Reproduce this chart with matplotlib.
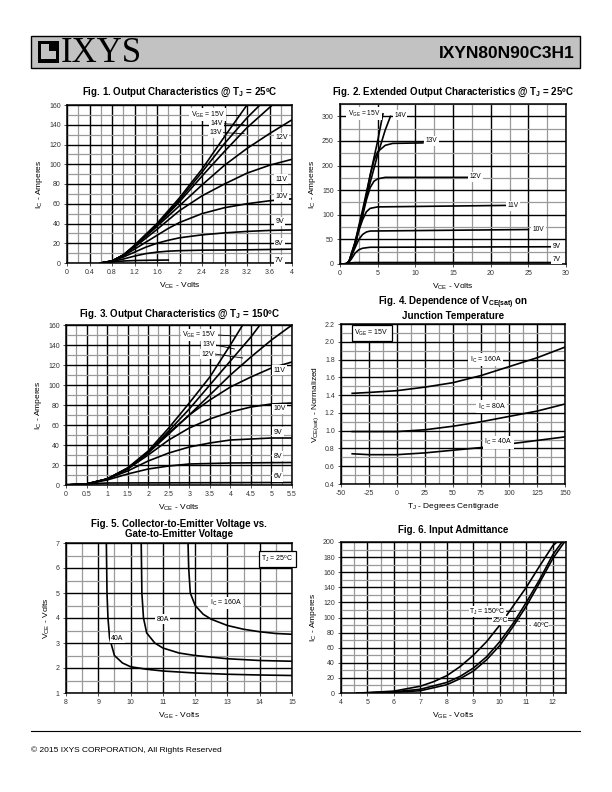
import matplotlib
matplotlib.use("Agg")
import matplotlib.pyplot as plt
from matplotlib.patches import Rectangle
from matplotlib.ticker import MultipleLocator, FormatStrFormatter

plt.rcParams['font.family'] = ['Liberation Sans', 'DejaVu Sans']
plt.rcParams['mathtext.fontset'] = 'custom'
plt.rcParams['mathtext.rm'] = 'Liberation Sans'
plt.rcParams['mathtext.it'] = 'Liberation Sans'
plt.rcParams['mathtext.bf'] = 'Liberation Sans:bold'
plt.rcParams['axes.unicode_minus'] = False

# ---- Fig. 1 data: output characteristics @ 25C (VCE, IC) ----
f1_vge = ['15V', '14V', '13V', '12V', '11V', '10V', '9V', '8V', '7V']
f1_vce = [
    [0.6, 0.8, 1.0, 1.2, 1.6, 2.0, 2.4, 2.8, 3.2],
    [0.6, 0.8, 1.0, 1.2, 1.6, 2.0, 2.4, 2.8, 3.2, 3.43],
    [0.6, 0.8, 1.0, 1.2, 1.6, 2.0, 2.4, 2.8, 3.2, 3.65],
    [0.6, 0.8, 1.0, 1.2, 1.6, 2.0, 2.4, 2.8, 3.2, 3.6, 4.0],
    [0.6, 0.8, 1.0, 1.2, 1.4, 1.6, 2.0, 2.4, 2.8, 3.2, 3.6, 4.0],
    [0.6, 0.8, 1.0, 1.2, 1.4, 1.6, 1.8, 2.0, 2.4, 2.8, 3.2, 3.6, 4.0],
    [0.6, 0.8, 1.0, 1.2, 1.4, 1.6, 1.8, 2.0, 2.4, 2.8, 3.2, 3.6, 4.0],
    [0.6, 0.8, 1.0, 1.2, 1.4, 1.6, 1.8, 2.0, 2.4, 3.0, 4.0],
    [0.6, 0.8, 1.0, 1.2, 1.5, 1.8],
]
f1_ic = [
    [0, 2, 8, 18, 40, 66, 95, 128, 160],
    [0, 2, 8, 17.5, 39, 64, 92, 121, 147, 160],
    [0, 2, 8, 17, 38, 62, 88, 113, 137, 160],
    [0, 2, 8, 17, 37, 58, 79, 99, 116, 131, 145],
    [0, 2, 8, 16, 25, 34, 53, 68, 80, 91, 99, 105],
    [0, 2, 7, 14, 21, 28, 35, 41, 50, 56, 60, 63, 65],
    [0, 2, 6, 11, 16, 20, 23, 25.5, 28.5, 30.5, 32, 33, 33.5],
    [0, 1.5, 4, 7, 9.5, 11, 12, 12.5, 13, 13.2, 14],
    [0, 1, 2, 2.5, 2.8, 3],
]

# ---- Fig. 2 data: extended output characteristics @ 25C ----
f2_vge = ['15V', '14V', '13V', '12V', '11V', '10V', '9V', '7V']
f2_vce = [
    [0, 0.8, 1.2, 2, 3, 4, 5, 5.7],
    [0, 0.8, 1.2, 2, 3, 4, 5, 6, 6.7],
    [0, 0.8, 1.2, 2, 3, 3.5, 4, 4.5, 5, 6, 7, 11],
    [0, 0.8, 1.2, 2, 3, 3.5, 4, 4.5, 5, 6, 17],
    [0, 0.8, 1.2, 2, 2.5, 3, 3.5, 4, 5, 22],
    [0, 0.8, 1.2, 2, 2.5, 3, 3.5, 4, 25],
    [0, 0.8, 1.2, 1.5, 2, 2.5, 3, 4, 28],
    [0, 0.8, 1.2, 2, 28],
]
f2_ic = [
    [0, 0.5, 5, 45, 110, 180, 250, 305],
    [0, 0.5, 5, 43, 104, 165, 222, 272, 300],
    [0, 0.5, 5, 42, 102, 140, 180, 210, 228, 241, 245, 246],
    [0, 0.5, 5, 40, 98, 130, 155, 168, 173, 176, 176],
    [0, 0.5, 5, 38, 68, 90, 106, 113, 116, 119],
    [0, 0.5, 5, 33, 50, 60, 65, 67, 70],
    [0, 0.5, 4, 10, 22, 29, 32, 34, 35],
    [0, 0.5, 2, 3, 3],
]

# ---- Fig. 3 data: output characteristics @ 150C ----
f3_vge = ['15V', '13V', '12V', '11V', '10V', '9V', '8V', '6V']
f3_vce = [
    [0, 0.5, 1, 1.5, 2, 2.5, 3, 3.5, 4, 4.3],
    [0, 0.5, 1, 1.5, 2, 2.5, 3, 3.5, 4, 4.5, 4.72],
    [0, 0.5, 1, 1.5, 2, 2.5, 3, 3.5, 4, 4.5, 5, 5.5],
    [0, 0.5, 1, 1.5, 2, 2.5, 3, 3.5, 4, 4.5, 5, 5.5],
    [0, 0.5, 1, 1.5, 2, 2.5, 3, 3.5, 4, 4.5, 5, 5.5],
    [0, 0.5, 1, 1.5, 2, 2.5, 3, 3.5, 4, 4.5, 5, 5.5],
    [0, 0.5, 1, 1.5, 2, 2.5, 3, 3.5, 4, 5.5],
    [0, 0.5, 1, 5.5],
]
f3_ic = [
    [0, 1, 6, 17, 34, 57, 82, 108, 140, 160],
    [0, 1, 6, 16.5, 33, 54, 76, 100, 124, 148, 160],
    [0, 1, 6, 16, 32, 51, 70, 90, 110, 128, 145, 160],
    [0, 1, 6, 17, 33, 52, 70, 85, 98, 108, 117, 123],
    [0, 1, 6, 16, 30, 45, 57, 66, 73, 78, 81, 82],
    [0, 1, 6, 14, 24, 32, 38, 42, 45, 46, 47, 47],
    [0, 1, 5, 11, 16, 19, 21, 21.5, 22, 22.5],
    [0.5, 1, 2, 2.5],
]

# ---- Fig. 4 data: VCE(sat) normalized vs TJ ----
f4_tj = [-40, -25, 0, 25, 50, 75, 100, 125, 150]
f4_160 = [1.42, 1.43, 1.45, 1.49, 1.54, 1.62, 1.72, 1.82, 1.94]
f4_80 = [0.99, 0.99, 0.99, 1.01, 1.05, 1.10, 1.16, 1.22, 1.30]
f4_40 = [0.74, 0.73, 0.73, 0.75, 0.78, 0.81, 0.85, 0.89, 0.93]

# ---- Fig. 5 data: VCE vs VGE ----
f5_vge_40 = [9.25, 9.27, 9.3, 9.35, 9.5, 9.75, 10, 10.5, 11, 12, 13, 14, 15]
f5_vce_40 = [7, 5, 4, 3.2, 2.5, 2.2, 2.05, 1.95, 1.88, 1.8, 1.75, 1.72, 1.7]
f5_vge_80 = [10.33, 10.35, 10.4, 10.5, 10.75, 11, 11.5, 12, 13, 14, 15]
f5_vce_80 = [7, 5, 4, 3.4, 3.0, 2.8, 2.6, 2.5, 2.37, 2.3, 2.27]
f5_vge_160 = [11.78, 11.8, 11.85, 12, 12.25, 12.5, 13, 13.5, 14, 14.5, 15]
f5_vce_160 = [7, 6, 5, 4.5, 4.15, 3.95, 3.7, 3.55, 3.45, 3.38, 3.35]

# ---- Fig. 6 data: input admittance ----
f6_vge_150 = [4.6, 5, 6, 7, 7.5, 8, 8.5, 9, 9.5, 10, 10.5, 11, 11.5, 12, 12.16]
f6_ic_150 = [0, 0.5, 2.5, 9, 15, 23, 35, 50, 68, 90, 115, 140, 168, 195, 200]
f6_vge_25 = [4.6, 5, 6, 7, 8, 8.5, 9, 9.5, 10, 10.5, 11, 11.5, 12, 12.35]
f6_ic_25 = [0, 0.3, 1.5, 5, 14, 22, 33, 48, 68, 92, 120, 150, 183, 200]
f6_vge_m40 = [4.6, 5, 6, 7, 8, 8.5, 9, 9.5, 10, 10.5, 11, 11.5, 12, 12.5]
f6_ic_m40 = [0, 0.2, 1, 3, 11, 19, 29, 44, 63, 88, 115, 146, 178, 203]

W, H = 612, 792
fig = plt.figure(figsize=(W / 100, H / 100), dpi=100)


def ax_at(l, t, r, b):
    return fig.add_axes([l / W, 1 - b / H, (r - l) / W, (b - t) / H])


def style(ax, xlim, ylim, xmaj, xmin, ymaj, ymin, xlabel, ylabel):
    ax.set_xlim(*xlim)
    ax.set_ylim(*ylim)
    ax.xaxis.set_major_locator(MultipleLocator(xmaj))
    ax.xaxis.set_minor_locator(MultipleLocator(xmin))
    ax.yaxis.set_major_locator(MultipleLocator(ymaj))
    ax.yaxis.set_minor_locator(MultipleLocator(ymin))
    ax.xaxis.set_major_formatter(FormatStrFormatter('%g'))
    ax.yaxis.set_major_formatter(FormatStrFormatter('%g'))
    ax.grid(True, which='minor', color='#9a9a9a', lw=0.9, zorder=0)
    ax.grid(True, which='major', color='black', lw=1.0, zorder=0)
    ax.set_axisbelow(True)
    ax.tick_params(which='major', length=2.5, width=0.6, labelsize=5, pad=2, colors='#333333')
    ax.tick_params(which='minor', length=0)
    for s in ax.spines.values():
        s.set_linewidth(1.1)
    ax.set_xlabel(xlabel, fontsize=6, labelpad=3)
    ax.set_ylabel(ylabel, fontsize=6, labelpad=3)


def lab(ax, x, y, s, ha='left', size=5, pad=1.0, **kw):
    ax.text(x, y, s, ha=ha, va='center', fontsize=size, zorder=5,
            bbox=dict(facecolor='white', edgecolor='none', pad=pad), **kw)


def leader(ax, x0, y0, x1, y1):
    ax.plot([x0, x1], [y0, y1], color='black', lw=0.6, zorder=4)


def title(x, y, s):
    fig.text(x / W, 1 - y / H, s, ha='center', va='center', fontsize=7, fontweight='bold')


LW = 1.2
VCE = r'V$_\mathregular{CE}$ - Volts'
VGE = r'V$_\mathregular{GE}$ - Volts'
ICA = r'I$_\mathregular{C}$ - Amperes'

# header
hdr = fig.add_axes([0, 0, 1, 1], zorder=-1)
hdr.set_xlim(0, W)
hdr.set_ylim(H, 0)
hdr.axis('off')
hdr.add_patch(Rectangle((31, 36), 549, 32, facecolor='#c2c2c2', edgecolor='black', lw=1.0))
hdr.add_patch(Rectangle((38, 41), 21, 22, facecolor='black'))
hdr.add_patch(Rectangle((41, 44), 8, 15, facecolor='#c2c2c2'))
hdr.add_patch(Rectangle((49, 51), 7, 8, facecolor='#c2c2c2'))
hdr.text(61, 53.5, 'IXYS', fontsize=25, family='Liberation Serif', va='center', ha='left')
hdr.text(575, 53, 'IXYN80N90C3H1', fontsize=12.5, fontweight='bold', va='center', ha='right')
hdr.plot([31, 580], [731, 731], color='black', lw=0.8)
hdr.text(31, 750, '\u00a9 2015 IXYS CORPORATION, All Rights Reserved', fontsize=6, va='center', ha='left')

# Fig 1
ax1 = ax_at(67, 105, 292, 263)
style(ax1, (0, 4), (0, 160), 0.4, 0.2, 20, 10, VCE, ICA)
for xs, ys in zip(f1_vce, f1_ic):
    ax1.plot(xs, ys, color='black', lw=LW, zorder=3)
lab(ax1, 2.81, 150, r'V$_\mathregular{GE}$ = 15V', ha='right')
leader(ax1, 2.83, 150, 3.08, 150)
lab(ax1, 2.77, 141, '14V', ha='right')
leader(ax1, 2.79, 141, 3.15, 140)
lab(ax1, 2.75, 132, '13V', ha='right')
leader(ax1, 2.77, 132, 3.15, 131)
for y, s in zip([127, 85, 67, 42, 20, 3], ['12V', '11V', '10V', '9V', '8V', '7V']):
    lab(ax1, 3.7, y, s)
title(180, 92, r'Fig. 1. Output Characteristics @ T$_\mathbf{J}$ = 25ºC')

# Fig 2
ax2 = ax_at(340, 104, 566, 264)
style(ax2, (0, 30), (0, 325), 5, 2.5, 50, 25, VCE, ICA)
for xs, ys in zip(f2_vce, f2_ic):
    ax2.plot(xs, ys, color='black', lw=LW, zorder=3)
lab(ax2, 1.0, 305, r'V$_\mathregular{GE}$ = 15V', size=4.8)
lab(ax2, 7.2, 302, '14V', size=4.8)
lab(ax2, 11.4, 250, '13V', size=4.8)
lab(ax2, 17.2, 177, '12V', size=4.8)
lab(ax2, 22.2, 118, '11V', size=4.8)
lab(ax2, 25.6, 71, '10V', size=4.8)
lab(ax2, 28.2, 36, '9V', size=4.8)
lab(ax2, 28.2, 9, '7V', size=4.8)
title(453, 92, r'Fig. 2. Extended Output Characteristics @ T$_\mathbf{J}$ = 25ºC')

# Fig 3
ax3 = ax_at(66, 325, 292, 485)
style(ax3, (0, 5.5), (0, 160), 0.5, 0.25, 20, 10, VCE, ICA)
for xs, ys in zip(f3_vce, f3_ic):
    ax3.plot(xs, ys, color='black', lw=LW, zorder=3)
lab(ax3, 3.67, 150, r'V$_\mathregular{GE}$ = 15V', ha='right')
leader(ax3, 3.69, 150, 4.1, 149)
lab(ax3, 3.62, 140, '13V', ha='right')
leader(ax3, 3.64, 140, 4.1, 136)
lab(ax3, 3.6, 131, '12V', ha='right')
leader(ax3, 3.62, 131, 4.3, 127)
for y, s in zip([115, 76, 53, 29, 8], ['11V', '10V', '9V', '8V', '6V']):
    lab(ax3, 5.05, y, s)
title(179, 314, r'Fig. 3. Output Characteristics @ T$_\mathbf{J}$ = 150ºC')

# Fig 4
ax4 = ax_at(341, 324, 565, 484)
style(ax4, (-50, 150), (0.4, 2.2), 25, 12.5, 0.2, 0.1, r'T$_\mathregular{J}$ - Degrees Centigrade',
      r'V$_\mathregular{CE(sat)}$ - Normalized')
ax4.yaxis.set_major_formatter(FormatStrFormatter('%.1f'))
ax4.plot(f4_tj, f4_160, color='black', lw=LW, zorder=3)
ax4.plot(f4_tj, f4_80, color='black', lw=LW, zorder=3)
ax4.plot(f4_tj, f4_40, color='black', lw=LW, zorder=3)
lab(ax4, 65, 1.8, r'I$_\mathregular{C}$ = 160A')
lab(ax4, 72, 1.27, r'I$_\mathregular{C}$ = 80A')
lab(ax4, 78, 0.87, r'I$_\mathregular{C}$ = 40A')
ax4.text(-38, 2.1, r'V$_\mathregular{GE}$ = 15V', fontsize=5, va='center', zorder=5,
         bbox=dict(facecolor='white', edgecolor='black', lw=0.9, pad=2))
title(453, 303, r'Fig. 4. Dependence of V$_\mathbf{CE(sat)}$ on')
title(453, 316, 'Junction Temperature')

# Fig 5
ax5 = ax_at(66, 543, 292, 693)
style(ax5, (8, 15), (1, 7), 1, 0.5, 1, 0.5, VGE, r'V$_\mathregular{CE}$ - Volts')
ax5.plot(f5_vge_40, f5_vce_40, color='black', lw=LW, zorder=3)
ax5.plot(f5_vge_80, f5_vce_80, color='black', lw=LW, zorder=3)
ax5.plot(f5_vge_160, f5_vce_160, color='black', lw=LW, zorder=3)
lab(ax5, 12.45, 4.6, r'I$_\mathregular{C}$ = 160A')
lab(ax5, 10.8, 3.95, '80A')
lab(ax5, 9.4, 3.2, '40A')
ax5.text(14.05, 6.35, r'T$_\mathregular{J}$ = 25ºC', fontsize=5, va='center', zorder=5,
         bbox=dict(facecolor='white', edgecolor='black', lw=0.9, pad=2))
title(179, 524, 'Fig. 5. Collector-to-Emitter Voltage vs.')
title(179, 534, 'Gate-to-Emitter Voltage')

# Fig 6
ax6 = ax_at(341, 542, 566, 693)
style(ax6, (4, 12.5), (0, 200), 1, 0.5, 20, 10, VGE, ICA)
ax6.plot(f6_vge_150, f6_ic_150, color='black', lw=LW, zorder=3)
ax6.plot(f6_vge_25, f6_ic_25, color='black', lw=LW, zorder=3)
ax6.plot(f6_vge_m40, f6_ic_m40, color='black', lw=LW, zorder=3)
lab(ax6, 10.2, 108, r'T$_\mathregular{J}$ = 150ºC', ha='right', size=5, pad=0.4)
leader(ax6, 10.22, 108, 10.58, 108)
lab(ax6, 10.3, 96, '25ºC', ha='right', size=5, pad=0.4)
leader(ax6, 10.32, 96, 10.75, 95)
lab(ax6, 11.1, 90, '- 40ºC', size=5, pad=0.4)
title(453, 530, 'Fig. 6. Input Admittance')

fig.savefig('out.png', dpi=100)
